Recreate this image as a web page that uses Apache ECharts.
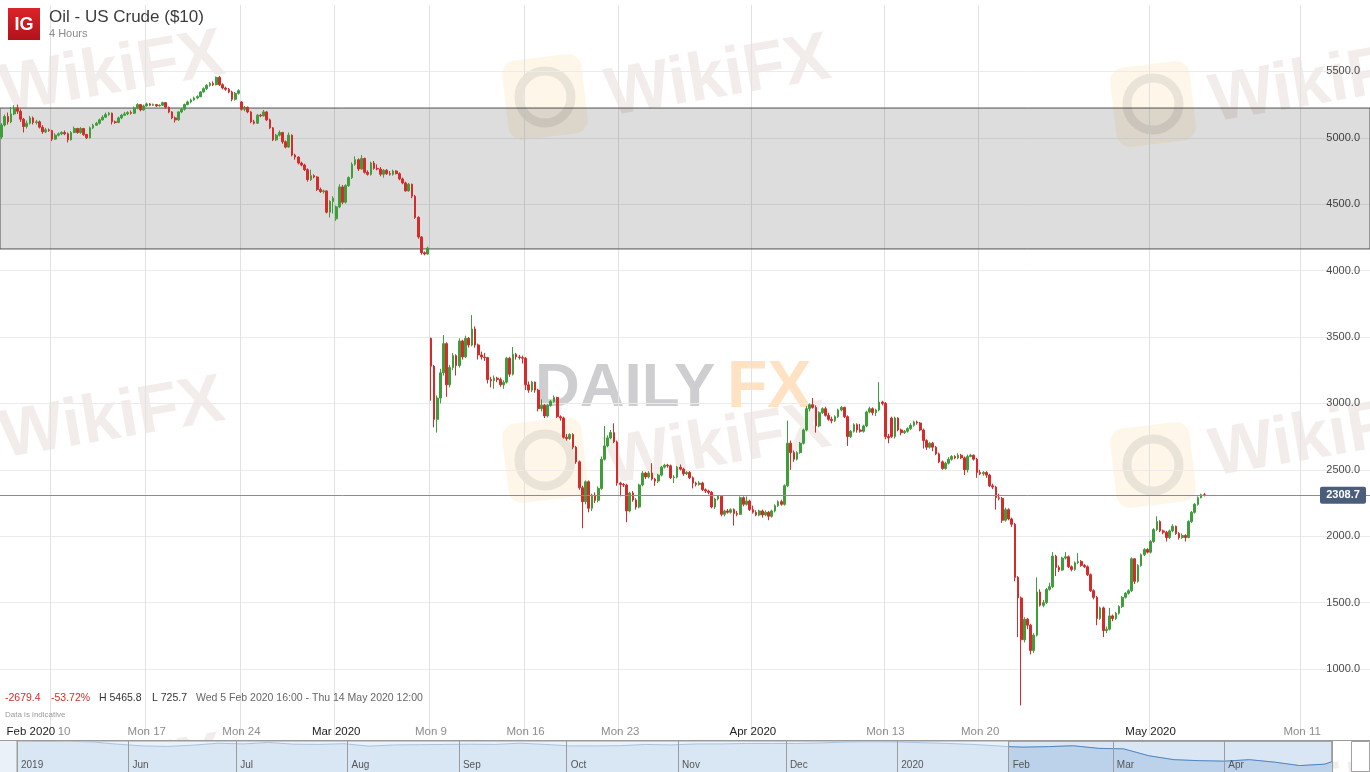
<!DOCTYPE html>
<html><head><meta charset="utf-8">
<script src="https://cdn.jsdelivr.net/npm/echarts@6/dist/echarts.min.js"></script>
<style>html,body{margin:0;padding:0;background:#fff}#c{width:1370px;height:772px}</style>
</head><body><div id="c"></div>
<script>
// ---------- DATA ----------
const tradingDays = [
 '2020-02-05','2020-02-06','2020-02-07','2020-02-10','2020-02-11','2020-02-12','2020-02-13','2020-02-14',
 '2020-02-17','2020-02-18','2020-02-19','2020-02-20','2020-02-21','2020-02-24','2020-02-25','2020-02-26','2020-02-27','2020-02-28',
 '2020-03-02','2020-03-03','2020-03-04','2020-03-05','2020-03-06','2020-03-09','2020-03-10','2020-03-11','2020-03-12','2020-03-13',
 '2020-03-16','2020-03-17','2020-03-18','2020-03-19','2020-03-20','2020-03-23','2020-03-24','2020-03-25','2020-03-26','2020-03-27',
 '2020-03-30','2020-03-31','2020-04-01','2020-04-02','2020-04-03','2020-04-06','2020-04-07','2020-04-08','2020-04-09',
 '2020-04-13','2020-04-14','2020-04-15','2020-04-16','2020-04-17','2020-04-20','2020-04-21','2020-04-22','2020-04-23','2020-04-24',
 '2020-04-27','2020-04-28','2020-04-29','2020-04-30','2020-05-01','2020-05-04','2020-05-05','2020-05-06','2020-05-07','2020-05-08',
 '2020-05-09','2020-05-10','2020-05-11','2020-05-12','2020-05-13','2020-05-14'];
const barHours = ['00:00','04:00','08:00','12:00','16:00','20:00'];

const tickDates  = ['2020-02-05 08:00','2020-02-10 00:00','2020-02-17 00:00','2020-02-24 00:00','2020-03-02 00:00','2020-03-09 00:00','2020-03-16 00:00','2020-03-23 00:00','2020-04-01 00:00','2020-04-13 00:00','2020-04-20 00:00','2020-05-01 00:00','2020-05-11 00:00'];
const tickLabels = ['Feb 2020','10','Mon 17','Mon 24','Mar 2020','Mon 9','Mon 16','Mon 23','Apr 2020','Mon 13','Mon 20','May 2020','Mon 11'];

const open = [
 5006,5096,5160,5120,5180,5225,5200,5140,5085,5110,5150,5115,5120,5080,5045,5060,
 5055,4990,5020,5030,5040,5030,4985,5040,5070,5040,5070,5025,5000,5075,5095,5110,5135,5155,5175,5185,5120,5115,5150,5170,5180,5190,5185,5225,5250,5210,
 5240,5255,5245,5250,5240,5245,5265,5230,5195,5150,5135,5195,5215,5250,5270,5285,5300,5310,5345,5370,5395,5410,5400,5455,5400,5375,5365,5345,5290,5335,
 5270,5215,5230,5195,5120,5110,5170,5165,5195,5135,5075,4985,5020,5040,4970,4930,5020,4870,4855,4810,4795,4760,4685,4715,4705,4610,4595,4600,4440,4520,
 4390,4480,4630,4515,4640,4700,4800,4835,4765,4845,4740,4725,4810,4770,4765,4725,4755,4730,4725,4750,4730,4690,4660,4600,4650,4560,4400,4253,4135,4125,
 3490,3280,2880,3040,3230,3450,3140,3270,3360,3285,3470,3350,3490,3440,3560,3440,3365,3350,3345,3180,3170,3190,3180,3140,3160,3340,3220,3370,3350,3345,
 3340,3140,3100,3160,3100,2960,2985,2905,2985,3015,3045,2900,2890,2745,2735,2765,2670,2560,2365,2260,2410,2210,2310,2270,2360,2580,2680,2740,2780,2710,2400,2390,
 2385,2190,2325,2273,2220,2386,2475,2446,2475,2430,
 2415,2460,2520,2535,2530,2440,2445,2520,2505,2470,
 2480,2440,2400,2390,2400,2350,2340,2330,2220,2280,
 2300,2165,2190,2180,2200,2170,2165,2290,2240,2265,
 2200,2180,2160,2190,2160,2180,2150,2190,2230,2260,
 2240,2380,2700,2630,2580,2630,2700,2800,2960,2990,
 2970,2830,2930,2960,2910,2880,2870,2900,2950,2970,
 2900,2750,2790,2840,2800,2790,2830,2935,2960,2930,
 2950,3010,3000,2750,2890,2750,2890,2800,2780,2790,
 2810,2835,2860,2852,2800,2720,2670,2700,2670,2620,
 2560,2510,2550,2580,2600,2590,2610,2590,2500,2600,
 2610,2580,2480,2470,2480,2460,2380,2370,2290,2285,
 2120,2200,2130,2090,1690,1535,1220,1375,1330,1140,
 1255,1580,1480,1500,1600,1620,1850,1765,1745,1835,
 1845,1770,1750,1800,1810,1780,1770,1710,1590,1540,
 1380,1460,1290,1300,1400,1380,1420,1470,1540,1570,
 1590,1830,1660,1780,1860,1900,1880,1960,2050,2110,
 2040,2030,1990,2040,2075,2020,1990,2005,1990,2110,
 2180,2240,2290,2312];
const close = [
 5096,5160,5120,5180,5225,5200,5140,5085,5110,5150,5115,5120,5080,5045,5060,5055,
 4990,5020,5030,5040,5030,4985,5040,5070,5040,5070,5025,5000,5075,5095,5110,5135,5155,5175,5185,5120,5115,5150,5170,5180,5190,5185,5225,5250,5210,5240,
 5255,5245,5250,5240,5245,5265,5230,5195,5150,5135,5195,5215,5250,5270,5285,5300,5310,5345,5370,5395,5410,5400,5455,5400,5375,5365,5345,5290,5335,5355,
 5215,5230,5195,5120,5110,5170,5165,5195,5135,5075,4985,5020,5040,4970,4930,5020,4870,4855,4810,4795,4760,4685,4715,4705,4610,4595,4600,4440,4520,4545,
 4480,4630,4515,4640,4700,4800,4835,4765,4845,4740,4725,4810,4770,4765,4725,4755,4730,4725,4750,4730,4690,4660,4600,4650,4560,4400,4253,4135,4125,4170,
 3280,2880,3040,3230,3450,3140,3270,3360,3285,3470,3350,3490,3440,3560,3440,3365,3350,3345,3180,3170,3190,3180,3140,3160,3340,3220,3370,3350,3345,3340,
 3140,3100,3160,3100,2960,2985,2905,2985,3015,3045,2900,2890,2745,2735,2765,2670,2560,2365,2260,2410,2210,2310,2270,2360,2580,2680,2740,2780,2710,2400,2390,2385,
 2190,2325,2273,2220,2386,2475,2446,2475,2430,2415,
 2460,2520,2535,2530,2440,2445,2520,2505,2470,2480,
 2440,2400,2390,2400,2350,2340,2330,2220,2280,2300,
 2165,2190,2180,2200,2170,2165,2290,2240,2265,2200,
 2180,2160,2190,2160,2180,2150,2190,2230,2260,2240,
 2380,2700,2630,2580,2630,2700,2800,2960,2990,2970,
 2830,2930,2960,2910,2880,2870,2900,2950,2970,2900,
 2750,2790,2840,2800,2790,2830,2935,2960,2930,2950,
 3010,3000,2750,2740,2750,2890,2800,2780,2790,2810,
 2835,2860,2852,2800,2720,2670,2700,2670,2620,2560,
 2510,2550,2580,2600,2590,2610,2590,2500,2600,2610,
 2580,2480,2470,2480,2460,2380,2370,2290,2285,2120,
 2200,2130,2090,1690,1535,1220,1375,1330,1140,1255,
 1580,1480,1500,1600,1620,1850,1765,1745,1835,1845,
 1770,1750,1800,1810,1780,1770,1710,1590,1540,1380,
 1460,1290,1300,1400,1380,1420,1470,1540,1570,1590,
 1830,1660,1780,1860,1900,1880,1960,2050,2110,2040,
 2030,1990,2040,2075,2020,1990,2005,1990,2110,2180,
 2240,2290,2312,2308.7];
const high = [
 5110,5175,5190,5230,5245,5250,5215,5150,5130,5165,5160,5135,5130,5095,5075,5070,
 5060,5035,5040,5050,5055,5040,5050,5085,5075,5080,5075,5030,5085,5105,5120,5145,5170,5190,5195,5190,5130,5160,5180,5195,5200,5205,5235,5260,5255,5250,
 5265,5262,5258,5255,5252,5272,5270,5235,5200,5160,5200,5225,5258,5280,5295,5310,5320,5352,5380,5405,5420,5425,5462,5466,5410,5385,5375,5355,5345,5365,
 5275,5240,5235,5200,5135,5180,5180,5210,5200,5145,5080,5030,5055,5045,4980,5040,5025,4880,4860,4820,4805,4770,4760,4725,4710,4625,4610,4605,4530,4560,
 4490,4650,4645,4650,4710,4815,4860,4845,4870,4850,4755,4820,4825,4800,4780,4765,4765,4750,4760,4755,4740,4700,4670,4660,4655,4570,4410,4260,4145,4180,
 3495,3290,3060,3260,3515,3460,3290,3380,3370,3490,3480,3510,3500,3665,3580,3450,3390,3380,3350,3200,3210,3200,3195,3175,3350,3350,3425,3380,3365,3360,
 3350,3165,3170,3165,3110,3030,2995,2995,3025,3060,3050,2910,2900,2770,2775,2775,2680,2570,2380,2420,2420,2320,2330,2375,2600,2830,2760,2800,2850,2720,2410,2400,
 2395,2335,2340,2285,2395,2490,2485,2490,2550,2440,
 2470,2530,2545,2545,2540,2460,2530,2540,2515,2490,
 2490,2450,2410,2415,2410,2360,2350,2340,2290,2310,
 2310,2200,2205,2210,2210,2190,2300,2300,2300,2275,
 2230,2195,2200,2200,2195,2190,2200,2240,2270,2275,
 2390,2870,2720,2645,2640,2710,2810,2980,3000,3040,
 2985,2940,2970,2975,2930,2900,2910,2960,2980,2975,
 2910,2800,2850,2850,2845,2840,2945,2975,2970,2960,
 3160,3020,3010,2770,2900,2900,2895,2810,2800,2820,
 2850,2870,2870,2860,2810,2730,2710,2710,2680,2630,
 2570,2560,2595,2610,2610,2625,2620,2600,2615,2620,
 2615,2590,2500,2490,2490,2470,2395,2380,2320,2295,
 2215,2210,2140,2100,1700,1545,1390,1385,1340,1270,
 1690,1600,1520,1610,1650,1880,1860,1780,1845,1880,
 1855,1780,1810,1873,1820,1790,1780,1720,1600,1550,
 1470,1470,1320,1460,1410,1430,1480,1550,1580,1600,
 1840,1835,1790,1870,1910,1910,1970,2060,2150,2120,
 2050,2040,2050,2090,2080,2030,2020,2015,2120,2190,
 2250,2300,2320,2325];
const low = [
 4990,5085,5100,5110,5170,5180,5120,5040,5070,5100,5100,5100,5070,5030,5035,5045,
 4975,4985,5010,5020,5020,4965,4980,5035,5030,5030,5015,4990,4995,5065,5090,5100,5130,5150,5165,5100,5105,5110,5140,5165,5170,5175,5180,5215,5200,5205,
 5235,5238,5240,5232,5235,5240,5220,5185,5140,5115,5128,5185,5205,5245,5260,5278,5290,5305,5340,5360,5385,5390,5395,5390,5365,5355,5335,5275,5280,5325,
 5205,5200,5185,5110,5100,5105,5155,5160,5125,5065,4975,4975,5010,4955,4920,4925,4860,4835,4800,4785,4750,4670,4675,4695,4600,4585,4580,4430,4400,4430,
 4375,4470,4500,4505,4630,4690,4790,4750,4760,4730,4715,4715,4760,4755,4710,4700,4720,4715,4715,4725,4680,4650,4595,4595,4545,4390,4240,4120,4115,4120,
 3020,2820,2780,3000,3210,3050,3120,3250,3210,3270,3330,3340,3420,3430,3420,3330,3330,3320,3150,3120,3110,3160,3125,3110,3150,3200,3210,3330,3330,3300,
 3100,3080,3085,3080,2940,2940,2890,2895,2975,3005,2890,2870,2735,2720,2725,2655,2545,2350,2060,2240,2180,2190,2250,2255,2350,2570,2670,2730,2700,2380,2300,2370,
 2105,2180,2260,2200,2210,2375,2430,2435,2420,2380,
 2400,2450,2510,2515,2430,2400,2435,2495,2455,2460,
 2430,2360,2375,2380,2340,2325,2315,2210,2205,2270,
 2150,2150,2170,2170,2080,2150,2160,2225,2230,2190,
 2170,2150,2150,2140,2150,2120,2140,2180,2220,2230,
 2230,2370,2500,2560,2570,2620,2690,2790,2940,2960,
 2780,2820,2920,2900,2870,2850,2860,2890,2940,2890,
 2680,2740,2780,2780,2780,2780,2820,2925,2910,2905,
 2940,2985,2730,2700,2740,2735,2790,2760,2770,2780,
 2800,2825,2840,2790,2660,2650,2660,2640,2610,2550,
 2500,2500,2540,2570,2580,2580,2580,2460,2480,2595,
 2570,2440,2460,2455,2440,2370,2355,2200,2270,2100,
 2110,2120,2070,1660,1240,726,1200,1300,1110,1120,
 1245,1470,1465,1490,1590,1610,1700,1730,1740,1825,
 1760,1735,1740,1790,1770,1760,1700,1580,1525,1330,
 1370,1240,1270,1290,1360,1370,1410,1460,1530,1560,
 1580,1640,1650,1770,1850,1870,1870,1950,2040,2030,
 2015,1960,1980,2030,2010,1975,1980,1960,1985,2100,
 2170,2230,2285,2300];

const bandTop = 5224, bandBottom = 4163;

// navigator (weekly, long history)
const navDates = ['2019-05-01','2019-05-08','2019-05-15','2019-05-22','2019-05-29','2019-06-05','2019-06-12','2019-06-19','2019-06-26','2019-07-03','2019-07-10','2019-07-17','2019-07-24','2019-07-31','2019-08-07','2019-08-14','2019-08-21','2019-08-28','2019-09-04','2019-09-11','2019-09-18','2019-09-25','2019-10-02','2019-10-09','2019-10-16','2019-10-23','2019-10-30','2019-11-06','2019-11-13','2019-11-20','2019-11-27','2019-12-04','2019-12-11','2019-12-18','2019-12-25','2020-01-01','2020-01-08','2020-01-15','2020-01-22','2020-01-29','2020-02-01','2020-02-05','2020-02-12','2020-02-19','2020-02-26','2020-03-04','2020-03-11','2020-03-18','2020-03-25','2020-04-01','2020-04-08','2020-04-15','2020-04-22','2020-04-29','2020-05-01'];
const navValues = [6250,6200,6250,6100,5650,5300,5200,5450,5850,5700,6000,5650,5600,5750,5250,5500,5550,5600,5650,5600,5850,5600,5300,5300,5350,5600,5500,5700,5700,5800,5800,5800,5900,6100,6150,6100,5950,5800,5600,5300,5150,5050,5150,5330,4800,4700,3300,2500,2300,2200,2500,2000,1300,1600,2100];
const navSelectStart = '2020-02-01';

// ---------- BUILD ----------
const categories = [];
tradingDays.forEach(d => barHours.forEach(h => categories.push(d + ' ' + h)));
categories.splice(0, 2);
categories.splice(categories.length - 2, 2);

const n = Math.min(open.length, close.length, high.length, low.length);
const candles = [];
for (let i = 0; i < n; i++) candles.push([open[i], close[i], low[i], high[i]]);
const lastPrice = close[n - 1];

const tickMap = {};
tickDates.forEach((d, i) => tickMap[d] = tickLabels[i]);
const gridSet = new Set(tickDates.slice(1));

const navData = navDates.map((d, i) => [d, navValues[i]]);
const navSel = navData.filter(p => p[0] >= navSelectStart);
const navMin = +new Date(2019, 4, 1), navMax = +new Date(2020, 4, 1);

const splitColors = ['rgba(0,0,0,0)'];
for (let i = 0; i < 10; i++) splitColors.push('#ebebeb');
splitColors.push('rgba(0,0,0,0)');

const monthNames = ['Jan','Feb','Mar','Apr','May','Jun','Jul','Aug','Sep','Oct','Nov','Dec'];

// watermark helpers
const wmTextPos = [[112,74],[718,78],[1322,84],[112,420],[718,446],[1322,438],[112,778],[718,800],[1322,795]];
const wmLogoPos = [[545,97],[1153,104],[545,460],[1153,465],[545,822],[1153,827]];
const graphics = [];
wmLogoPos.forEach(p => {
  graphics.push({type:'rect', x:p[0], y:p[1], rotation:0.12, silent:true, z:-10,
    shape:{x:-40,y:-40,width:80,height:80,r:14}, style:{fill:'rgba(250,190,100,0.14)'}});
  graphics.push({type:'circle', x:p[0], y:p[1], silent:true, z:-10,
    shape:{cx:0,cy:0,r:26}, style:{fill:'none', stroke:'rgba(130,130,130,0.16)', lineWidth:9}});
});
wmTextPos.forEach(p => {
  graphics.push({type:'text', x:p[0], y:p[1], rotation:0.17, silent:true, z:-10,
    style:{text:'WikiFX', font:'bold 68px "Liberation Sans", Arial, sans-serif', fill:'rgba(170,125,115,0.15)', align:'center', verticalAlign:'middle'}});
});
graphics.push({type:'text', x:535, y:389, silent:true, z:-10,
  style:{text:'DAILY', font:'bold 62px "Liberation Sans", Arial, sans-serif', fill:'rgba(105,105,112,0.33)', align:'left', verticalAlign:'middle'}});
graphics.push({type:'text', x:727, y:389, silent:true, z:-10,
  style:{text:'FX', font:'bold 66px "Liberation Sans", Arial, sans-serif', fill:'rgba(255,150,40,0.28)', align:'left', verticalAlign:'middle'}});
// header
graphics.push({type:'rect', x:8, y:8, shape:{width:32, height:32}, z:10,
  style:{fill:{type:'linear',x:0,y:0,x2:0,y2:1,colorStops:[{offset:0,color:'#dc2329'},{offset:1,color:'#b3121b'}]}}});
graphics.push({type:'text', x:24, y:25, z:11, style:{text:'IG', font:'bold 18px "Liberation Sans", Arial, sans-serif', fill:'#fff', align:'center', verticalAlign:'middle'}});
graphics.push({type:'text', x:49, y:17, z:10, style:{text:'Oil - US Crude ($10)', font:'17px "Liberation Sans", Arial, sans-serif', fill:'#3c3c3c', verticalAlign:'middle'}});
graphics.push({type:'text', x:49, y:34, z:10, style:{text:'4 Hours', font:'11px "Liberation Sans", Arial, sans-serif', fill:'#8a8a8a', verticalAlign:'middle'}});
// stats
const statFont = '10.5px "Liberation Sans", Arial, sans-serif';
[[5,'-2679.4','#cf2f2b'],[51,'-53.72%','#cf2f2b'],[99,'H 5465.8','#333'],[152,'L 725.7','#333'],[196,'Wed 5 Feb 2020 16:00 - Thu 14 May 2020 12:00','#666']]
 .forEach(s => graphics.push({type:'text', x:s[0], y:698, z:10, style:{text:s[1], font:statFont, fill:s[2], verticalAlign:'middle'}}));
graphics.push({type:'text', x:5, y:715, z:10, style:{text:'Data is indicative', font:'8px "Liberation Sans", Arial, sans-serif', fill:'#9a9a9a', verticalAlign:'middle'}});
// navigator frame
graphics.push({type:'rect', z:-5, shape:{x:0,y:741,width:17,height:31}, style:{fill:'#eaf1f8'}});
graphics.push({type:'line', z:10, shape:{x1:0,y1:740.5,x2:1370,y2:740.5}, style:{stroke:'#9a9a9a', lineWidth:1}});
graphics.push({type:'rect', z:10, shape:{x:1351.5,y:741.5,width:18,height:30}, style:{fill:'#fff', stroke:'#a0a0a0', lineWidth:1}});

const chart = echarts.init(document.getElementById('c'));
chart.setOption({
  animation: false,
  backgroundColor: '#ffffff',
  textStyle: {fontFamily: '"Liberation Sans", Arial, sans-serif'},
  grid: [
    {left: 0, right: 0, top: 5, bottom: 36.6},
    {left: 17, right: 38, top: 741, height: 31, show: true, backgroundColor: '#eaf1f8', borderColor: '#a0a0a0', borderWidth: 1}
  ],
  xAxis: [
    {type: 'category', gridIndex: 0, data: categories, boundaryGap: true,
     axisLine: {show: false}, axisTick: {show: false},
     axisLabel: {
       interval: (i, v) => tickMap[v] !== undefined,
       formatter: v => {
         const t = tickMap[v]; if (t === undefined) return '';
         if (v === tickDates[0]) return '{f|' + t + '}';
         if (t === '10') return '{p|' + t + '}';
         if (t.indexOf('2020') >= 0) return '{m|' + t + '}';
         return '{d|' + t + '}';
       },
       alignMinLabel: 'left', margin: -10,
       rich: {
         f: {fontSize: 11.5, color: '#222', padding: [0,0,0,5]},
         m: {fontSize: 11.5, color: '#222'},
         d: {fontSize: 11.5, color: '#8c8c8c'},
         p: {fontSize: 11.5, color: '#8c8c8c', padding: [0,0,0,24]}
       }
     },
     splitLine: {show: true, interval: (i, v) => gridSet.has(v), lineStyle: {color: '#e2e2e2', width: 1}}
    },
    {type: 'time', gridIndex: 1, min: navMin, max: navMax, z: 6,
     minInterval: 28 * 864e5, maxInterval: 31 * 864e5,
     axisLine: {show: false}, axisTick: {show: false},
     splitLine: {show: true, lineStyle: {color: '#9c9c9c'}},
     axisLabel: {inside: true, align: 'left', margin: 2, color: '#555', fontSize: 10, padding: [0,0,0,4], showMinLabel: true, showMaxLabel: false,
       formatter: val => { const d = new Date(val); const m = d.getMonth();
         if (val >= navMax) return '';
         if (m === 0 || (d.getFullYear() === 2019 && m === 4)) return String(d.getFullYear());
         return monthNames[m]; }}
    }
  ],
  yAxis: [
    {type: 'value', gridIndex: 0, position: 'right', min: 500, max: 6000, interval: 500,
     axisLine: {show: false}, axisTick: {show: false},
     axisLabel: {inside: true, margin: 10, color: '#4a4a4a', fontSize: 11,
       formatter: v => (v <= 500 || v >= 6000) ? '' : v.toFixed(1)},
     splitLine: {show: true, lineStyle: {color: splitColors}}},
    {type: 'value', gridIndex: 1, min: 0, max: 6300, show: false}
  ],
  series: [
    {type: 'candlestick', xAxisIndex: 0, yAxisIndex: 0, data: candles, barWidth: 2.2,
     itemStyle: {color: '#3f9d3c', color0: '#d52b2b', borderColor: '#3f9d3c', borderColor0: '#d52b2b', borderWidth: 1},
     markArea: {silent: true, itemStyle: {color: 'rgba(0,0,0,0.135)', borderColor: '#505050', borderWidth: 1},
       data: [[{yAxis: bandTop}, {yAxis: bandBottom}]]},
     markLine: {silent: true, symbol: ['none','none'], label: {show: false},
       lineStyle: {color: '#8c8c8c', width: 1, type: 'solid'},
       data: [{yAxis: lastPrice}]}
    },
    {type: 'line', xAxisIndex: 1, yAxisIndex: 1, data: navData, symbol: 'none', silent: true, z: 1,
     lineStyle: {color: '#a9c3de', width: 1}, areaStyle: {color: '#d9e6f4', opacity: 1}},
    {type: 'line', xAxisIndex: 1, yAxisIndex: 1, data: navSel, symbol: 'none', silent: true, z: 2,
     lineStyle: {color: '#4f86c1', width: 1}, areaStyle: {color: '#bcd2eb', opacity: 1}}
  ],
  graphic: {elements: graphics}
});

// selection window tint in the navigator + current price tag
const selX = chart.convertToPixel({xAxisIndex: 1}, +new Date(2020, 1, 1));
const py = chart.convertToPixel({yAxisIndex: 0}, lastPrice);
chart.setOption({graphic: {elements: [
  {type: 'rect', id: 'sel', z: 1, silent: true, shape: {x: selX, y: 741, width: 1332 - selX, height: 31}, style: {fill: 'rgba(120,160,210,0.14)', stroke: '#8a8a8a', lineWidth: 1}},
  {type: 'rect', id: 'ptag', z: 20, shape: {x: 1320, y: py - 8.5, width: 46, height: 17, r: 2}, style: {fill: '#4a5d7b'}},
  {type: 'text', id: 'ptxt', z: 21, x: 1343, y: py, style: {text: lastPrice.toFixed(1), font: 'bold 11px "Liberation Sans", Arial, sans-serif', fill: '#fff', align: 'center', verticalAlign: 'middle'}}
]}});
</script></body></html>
